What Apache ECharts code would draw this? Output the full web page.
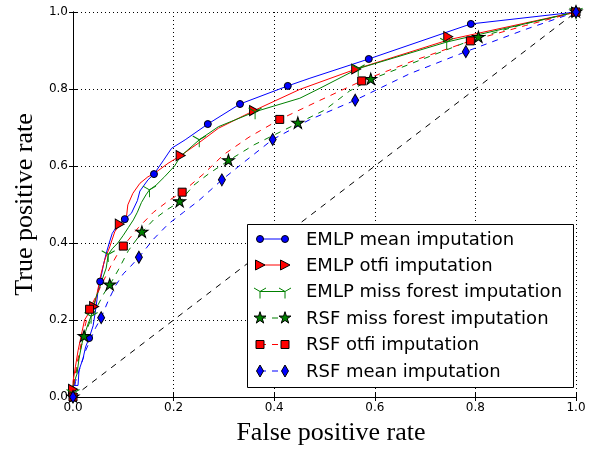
<!DOCTYPE html>
<html><head><meta charset="utf-8">
<script src="https://cdn.jsdelivr.net/npm/echarts@6/dist/echarts.min.js"></script>
<style>html,body{margin:0;padding:0;background:#fff}#c{width:596px;height:450px}</style>
</head><body><div id="c"></div>
<script>
// ---- data ----
const seriesNames = ['EMLP mean imputation','EMLP otfi imputation','EMLP miss forest imputation','RSF miss forest imputation','RSF otfi imputation','RSF mean imputation'];
const xTickValues = [0,0.2,0.4,0.6,0.8,1.0];
const yTickValues = [0,0.2,0.4,0.6,0.8,1.0];

const emlpMeanCurve = [[0,0],[0,0.03],[0.01,0.03],[0.012,0.07],[0.02,0.1],[0.025,0.13],[0.032,0.153],[0.04,0.185],[0.046,0.235],[0.05,0.278],[0.054,0.3],[0.06,0.34],[0.066,0.373],[0.072,0.40],[0.078,0.425],[0.089,0.447],[0.103,0.462],[0.116,0.477],[0.128,0.51],[0.133,0.535],[0.149,0.564],[0.161,0.579],[0.18,0.615],[0.196,0.646],[0.223,0.668],[0.268,0.709],[0.332,0.761],[0.427,0.808],[0.471,0.828],[0.588,0.878],[0.791,0.969],[1,1]];
const emlpMeanMarks = [[0,0],[0.032,0.153],[0.054,0.3],[0.103,0.462],[0.161,0.579],[0.268,0.709],[0.332,0.761],[0.427,0.808],[0.588,0.878],[0.791,0.969],[1,1]];

const emlpOtfiCurve = [[0,0],[0,0.04],[0.005,0.08],[0.01,0.12],[0.018,0.17],[0.023,0.2],[0.03,0.215],[0.042,0.235],[0.048,0.27],[0.056,0.321],[0.063,0.356],[0.073,0.39],[0.083,0.429],[0.093,0.449],[0.106,0.464],[0.109,0.499],[0.119,0.529],[0.133,0.555],[0.149,0.572],[0.162,0.581],[0.189,0.607],[0.214,0.627],[0.25,0.66],[0.289,0.698],[0.36,0.744],[0.451,0.799],[0.563,0.852],[0.75,0.929],[1,1]];
const emlpOtfiMarks = [[0,0.02],[0.042,0.235],[0.093,0.449],[0.214,0.627],[0.36,0.744],[0.563,0.852],[0.746,0.936],[1,1]];

const emlpMissForestCurve = [[0,0],[0,0.03],[0.008,0.06],[0.012,0.1],[0.018,0.14],[0.025,0.17],[0.03,0.19],[0.036,0.21],[0.04,0.235],[0.046,0.26],[0.052,0.28],[0.058,0.305],[0.066,0.335],[0.07,0.37],[0.078,0.385],[0.089,0.40],[0.1,0.42],[0.11,0.44],[0.12,0.46],[0.128,0.48],[0.136,0.505],[0.145,0.525],[0.152,0.538],[0.165,0.55],[0.182,0.572],[0.202,0.6],[0.213,0.624],[0.251,0.668],[0.289,0.702],[0.362,0.741],[0.451,0.776],[0.491,0.802],[0.567,0.853],[0.743,0.922],[1,1]];
const emlpMissForestMarks = [[0,0.01],[0.036,0.21],[0.07,0.37],[0.152,0.538],[0.251,0.668],[0.362,0.741],[0.567,0.853],[0.743,0.922],[1,1]];

const rsfMissForestCurve = [[0,0],[0.003,0.04],[0.01,0.09],[0.016,0.13],[0.022,0.157],[0.035,0.2],[0.05,0.24],[0.062,0.27],[0.073,0.291],[0.09,0.33],[0.11,0.38],[0.137,0.428],[0.16,0.46],[0.185,0.485],[0.212,0.507],[0.24,0.55],[0.27,0.58],[0.309,0.614],[0.36,0.655],[0.447,0.711],[0.5,0.745],[0.55,0.795],[0.592,0.825],[0.7,0.88],[0.806,0.934],[0.9,0.97],[1,1]];
const rsfMissForestMarks = [[0,0],[0.022,0.157],[0.073,0.291],[0.137,0.428],[0.212,0.507],[0.309,0.614],[0.447,0.711],[0.592,0.825],[0.806,0.934],[1,1]];

const rsfOtfiCurve = [[0,0],[0.003,0.05],[0.01,0.1],[0.018,0.15],[0.025,0.19],[0.033,0.228],[0.045,0.26],[0.06,0.3],[0.075,0.34],[0.088,0.37],[0.1,0.392],[0.13,0.44],[0.16,0.48],[0.19,0.51],[0.217,0.532],[0.26,0.58],[0.3,0.63],[0.35,0.675],[0.411,0.721],[0.49,0.77],[0.574,0.821],[0.68,0.875],[0.79,0.925],[0.9,0.965],[1,1]];
const rsfOtfiMarks = [[0,0],[0.033,0.228],[0.1,0.392],[0.217,0.532],[0.411,0.721],[0.574,0.821],[0.79,0.925],[1,1]];

const rsfMeanCurve = [[0,0],[0.005,0.04],[0.015,0.08],[0.025,0.12],[0.035,0.15],[0.045,0.18],[0.056,0.206],[0.07,0.25],[0.085,0.29],[0.1,0.32],[0.115,0.34],[0.131,0.363],[0.16,0.41],[0.19,0.45],[0.22,0.48],[0.25,0.51],[0.296,0.564],[0.34,0.61],[0.397,0.669],[0.47,0.72],[0.561,0.771],[0.67,0.84],[0.781,0.897],[0.9,0.955],[1,1]];
const rsfMeanMarks = [[0,0],[0.056,0.206],[0.131,0.363],[0.296,0.564],[0.397,0.669],[0.561,0.771],[0.781,0.897],[1,1]];

const chanceLine = [[0,0],[1,1]];

// ---- styles ----
const BLUE = '#0000ff', RED = '#ff0000', GREEN = '#008000';
const STAR_PTS = [[0,-1],[0.2234,-0.3074],[0.9511,-0.309],[0.3614,0.1174],[0.5878,0.809],[0,0.38],[-0.5878,0.809],[-0.3614,0.1174],[-0.9511,-0.309],[-0.2234,-0.3074]];
const STAR_PATH = 'path://M' + STAR_PTS.map(p => (p[0]*100).toFixed(2)+','+(p[1]*100).toFixed(2)).join(' L') + ' Z M0,100';
const TRI_DOWN_PATH = 'path://M0,-10 M0,0 L0,10 M0,0 L-8.66,-5 M0,0 L8.66,-5';
const DASH = [6, 6];

const defs = [
  {name: seriesNames[0], curve: emlpMeanCurve, marks: emlpMeanMarks, color: BLUE, dash: 'solid', symbol: 'circle', size: 7, rotate: 0, fill: BLUE},
  {name: seriesNames[1], curve: emlpOtfiCurve, marks: emlpOtfiMarks, color: RED, dash: 'solid', symbol: 'triangle', size: [10, 9], rotate: -90, fill: RED},
  {name: seriesNames[2], curve: emlpMissForestCurve, marks: emlpMissForestMarks, color: GREEN, dash: 'solid', symbol: TRI_DOWN_PATH, size: [13, 15], rotate: 0, fill: 'rgba(0,0,0,0)', edge: GREEN},
  {name: seriesNames[3], curve: rsfMissForestCurve, marks: rsfMissForestMarks, color: GREEN, dash: DASH, symbol: STAR_PATH, size: [12, 12.6], rotate: 0, fill: GREEN},
  {name: seriesNames[4], curve: rsfOtfiCurve, marks: rsfOtfiMarks, color: RED, dash: DASH, symbol: 'rect', size: 8, rotate: 0, fill: RED},
  {name: seriesNames[5], curve: rsfMeanCurve, marks: rsfMeanMarks, color: BLUE, dash: DASH, symbol: 'diamond', size: [7, 12], rotate: 0, fill: BLUE}
];

const series = [{
  type: 'line', data: chanceLine, showSymbol: false, silent: true,
  lineStyle: {color: '#000', width: 1, type: DASH}, z: 2
}];
defs.forEach(d => {
  series.push({
    type: 'line', name: d.name, data: d.curve, showSymbol: false, silent: true,
    lineStyle: {color: d.color, width: 1, type: d.dash}, z: 2
  });
  series.push({
    type: 'scatter', name: d.name, data: d.marks, symbol: d.symbol, symbolSize: d.size,
    symbolRotate: d.rotate, clip: true, silent: true,
    itemStyle: {color: d.fill, borderColor: d.edge || '#000', borderWidth: 1, opacity: 1}, z: 2
  });
});

// ---- legend drawn as graphic ----
const LX0 = 247, LY0 = 224, LW = 326, LH = 163;
const rowY = [239, 265, 291.5, 318, 344.5, 371];
const m1 = 260, m2 = 285, tx = 306;
const legendEls = [{type: 'rect', shape: {x: LX0 + 0.5, y: LY0 + 0.5, width: LW, height: LH}, style: {fill: '#fff', stroke: '#000', lineWidth: 1}, z: 10}];
function markerEl(d, cx, cy) {
  const st = {fill: d.fill, stroke: d.edge || '#000', lineWidth: 1};
  if (d.symbol === 'circle') return {type: 'circle', shape: {cx, cy, r: 3.5}, style: st, z: 12};
  if (d.symbol === 'rect') return {type: 'rect', shape: {x: cx - 4, y: cy - 4, width: 8, height: 8}, style: st, z: 12};
  if (d.symbol === 'triangle') return {type: 'polygon', shape: {points: [[cx - 4.5, cy - 5], [cx + 5, cy], [cx - 4.5, cy + 5]]}, style: st, z: 12};
  if (d.symbol === 'diamond') return {type: 'polygon', shape: {points: [[cx, cy - 6], [cx + 3.5, cy], [cx, cy + 6], [cx - 3.5, cy]]}, style: st, z: 12};
  if (d.symbol === STAR_PATH) return {type: 'polygon', shape: {points: STAR_PTS.map(p => [cx + p[0]*6.3, cy + p[1]*6.3])}, style: st, z: 12};
  return {type: 'group', z: 12, children: [
    {type: 'line', shape: {x1: cx, y1: cy, x2: cx, y2: cy + 7}, style: {stroke: GREEN, lineWidth: 1}, z: 12},
    {type: 'line', shape: {x1: cx, y1: cy, x2: cx - 6, y2: cy - 3.5}, style: {stroke: GREEN, lineWidth: 1}, z: 12},
    {type: 'line', shape: {x1: cx, y1: cy, x2: cx + 6, y2: cy - 3.5}, style: {stroke: GREEN, lineWidth: 1}, z: 12}
  ]};
}
defs.forEach((d, i) => {
  const y = rowY[i];
  legendEls.push({type: 'line', shape: {x1: m1, y1: y, x2: m2, y2: y}, style: {stroke: d.color, lineWidth: 1, lineDash: d.dash === 'solid' ? null : DASH}, z: 11});
  legendEls.push(markerEl(d, m1, y));
  legendEls.push(markerEl(d, m2, y));
  legendEls.push({type: 'text', x: tx, y: y + 1, style: {text: d.name, fill: '#000', font: '18px "DejaVu Sans"', textVerticalAlign: 'middle', verticalAlign: 'middle'}, z: 12});
});

const axisFont = {fontFamily: 'DejaVu Sans', fontSize: 12, color: '#000'};
const fmt = v => v.toFixed(1);

const option = {
  animation: false,
  backgroundColor: '#fff',
  grid: {left: 73, right: 20, top: 12, bottom: 53, containLabel: false, outerBoundsMode: 'none'},
  xAxis: [
    {type: 'value', min: 0, max: 1, interval: 0.2, position: 'bottom',
     name: 'False positive rate', nameLocation: 'middle', nameGap: 23,
     nameTextStyle: {fontFamily: 'Liberation Serif', fontSize: 26, color: '#000', padding: [0, 0, 0, 13]},
     axisLine: {lineStyle: {color: '#000', width: 1}},
     axisTick: {inside: true, length: 4, lineStyle: {color: '#000'}},
     axisLabel: Object.assign({margin: 5, formatter: fmt}, axisFont),
     splitLine: {show: true, lineStyle: {color: '#000', width: 1, type: [1, 3]}}},
    {type: 'value', min: 0, max: 1, interval: 0.2, position: 'top',
     axisLine: {lineStyle: {color: '#000', width: 1}},
     axisTick: {inside: true, length: 4, lineStyle: {color: '#000'}},
     axisLabel: {show: false}, splitLine: {show: false}}
  ],
  yAxis: [
    {type: 'value', min: 0, max: 1, interval: 0.2, position: 'left',
     name: 'True positive rate', nameLocation: 'middle', nameGap: 26,
     nameTextStyle: {fontFamily: 'Liberation Serif', fontSize: 26, color: '#000'},
     axisLine: {lineStyle: {color: '#000', width: 1}},
     axisTick: {inside: true, length: 4, lineStyle: {color: '#000'}},
     axisLabel: Object.assign({margin: 5, formatter: fmt}, axisFont),
     splitLine: {show: true, lineStyle: {color: '#000', width: 1, type: [1, 3]}}},
    {type: 'value', min: 0, max: 1, interval: 0.2, position: 'right',
     axisLine: {lineStyle: {color: '#000', width: 1}},
     axisTick: {inside: true, length: 4, lineStyle: {color: '#000'}},
     axisLabel: {show: false}, splitLine: {show: false}}
  ],
  series: series,
  graphic: legendEls
};
const chart = echarts.init(document.getElementById('c'), null, {renderer: 'canvas'});
chart.setOption(option);
</script></body></html>
